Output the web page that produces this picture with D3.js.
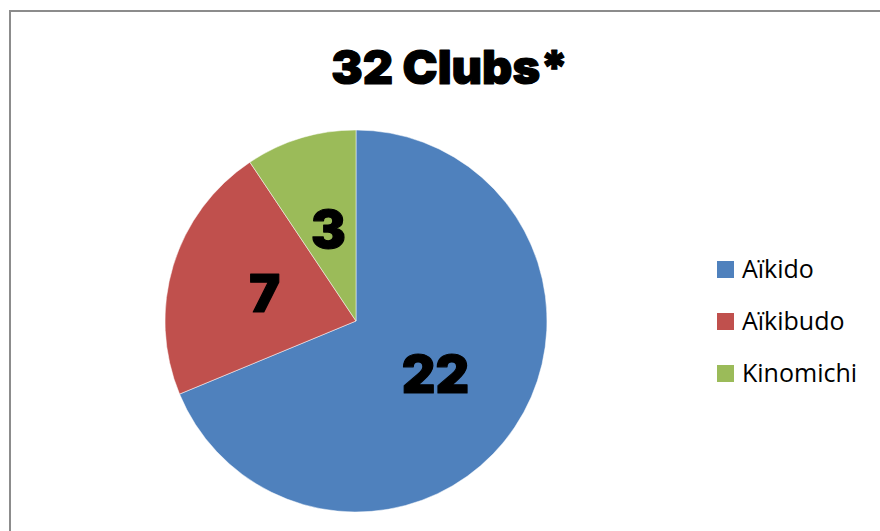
<!DOCTYPE html>
<html>
<head>
<meta charset="utf-8">
<script src="https://cdn.jsdelivr.net/npm/d3@7"></script>
<style>
  body { margin: 0; background: #fff; }
  svg { display: block; }
</style>
</head>
<body>
<div id="chart"></div>
<script>
// data
var categories = ['Aïkido', 'Aïkibudo', 'Kinomichi'];
var clubs = [22, 7, 3];
var colors = ['#4f81bd', '#c0504d', '#9bbb59'];
var title = '32 Clubs*';

var width = 880, height = 531;
var cx = 356, cy = 321, radius = 191;

var svg = d3.select('#chart').append('svg')
    .attr('width', width)
    .attr('height', height);

// chart frame (runs off the right and bottom)
svg.append('rect')
    .attr('x', 10)
    .attr('y', 11)
    .attr('width', 900)
    .attr('height', 600)
    .attr('fill', '#fff')
    .attr('stroke', '#8c8c8c')
    .attr('stroke-width', 2);

var heavy = "'Inter', 'Noto Sans', 'DejaVu Sans', sans-serif";

svg.append('text')
    .attr('x', 450)
    .attr('y', 84)
    .attr('text-anchor', 'middle')
    .style('font-family', heavy)
    .style('font-weight', 900)
    .style('font-size', '47px')
    .style('stroke', '#000')
    .style('stroke-width', 1.2)
    .style('stroke-linejoin', 'round')
    .text(title);

var pie = d3.pie().sort(null).value(function(d) { return d.value; });
var arc = d3.arc().innerRadius(0).outerRadius(radius);

var data = categories.map(function(c, i) { return {name: c, value: clubs[i]}; });
var color = d3.scaleOrdinal().domain(categories).range(colors);

var g = svg.append('g').attr('transform', 'translate(' + cx + ',' + cy + ')');

g.selectAll('.slice')
    .data(pie(data))
    .enter()
    .append('path')
    .attr('class', 'slice')
    .attr('d', arc)
    .attr('fill', function(d) { return color(d.data.name); })
    .attr('stroke', '#fff')
    .attr('stroke-width', 0.5);

g.selectAll('.lbl')
    .data(pie(data))
    .enter()
    .append('text')
    .attr('class', 'lbl')
    .attr('transform', function(d) { var c = arc.centroid(d); return 'translate(' + c[0] + ',' + c[1] + ')'; })
    .attr('text-anchor', 'middle')
    .attr('dy', '0.36em')
    .style('font-family', heavy)
    .style('font-weight', 900)
    .style('font-size', '52px')
    .style('stroke', '#000')
    .style('stroke-width', 1.2)
    .style('stroke-linejoin', 'round')
    .text(function(d) { return d.data.value; });

// legend
var legend = svg.selectAll('.leg')
    .data(categories)
    .enter()
    .append('g')
    .attr('class', 'leg')
    .attr('transform', function(d, i) { return 'translate(717,' + (261 + i * 52) + ')'; });

legend.append('rect')
    .attr('width', 17)
    .attr('height', 17)
    .attr('fill', function(d) { return color(d); });

legend.append('text')
    .attr('x', 25)
    .attr('y', 8.5)
    .attr('dy', '0.35em')
    .style('font-family', "'Open Sans', 'Noto Sans', sans-serif")
    .style('font-size', '25px')
    .style('fill', '#000')
    .text(function(d) { return d; });
</script>
</body>
</html>
